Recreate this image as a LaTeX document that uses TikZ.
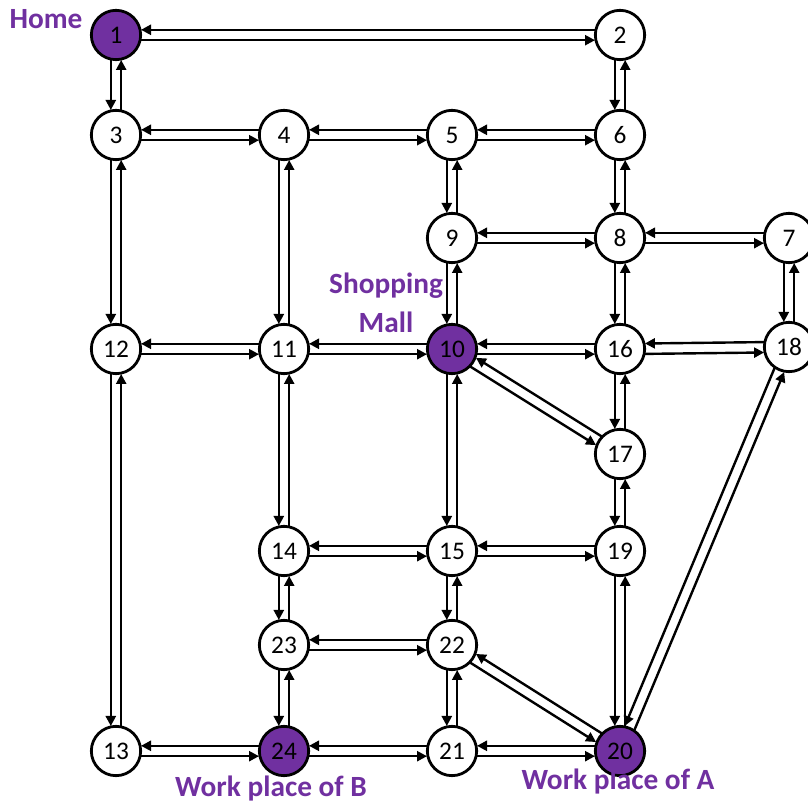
\documentclass[tikz,border=0pt]{standalone}
\usepackage{fontspec}
\setmainfont{Carlito}
\usetikzlibrary{calc,arrows.meta}
\definecolor{offpurple}{HTML}{7030A0}
\tikzset{
  vtx/.style={circle,draw=black,line width=2.1pt,fill=white,minimum size=37pt,inner sep=0pt,font=\fontsize{19}{22}\selectfont},
  hub/.style={vtx,fill=offpurple},
  lbl/.style={text=offpurple,font=\fontsize{22}{29}\selectfont\bfseries,inner sep=0pt,align=center},
  arr/.style={line width=1.8pt,-{Triangle[length=7.5pt,width=7.5pt]}}
}
\newcommand\RR{18.75pt}
\newcommand\DD{3.9pt}
\newcommand\biedge[2]{%
  \draw[arr] ($(#1)!\RR!(#2)!\DD!-90:(#2)$) -- ($(#2)!\RR!(#1)!\DD!90:(#1)$);
  \draw[arr] ($(#2)!\RR!(#1)!\DD!-90:(#1)$) -- ($(#1)!\RR!(#2)!\DD!90:(#2)$);}
\begin{document}
\begin{tikzpicture}[x=0.75pt,y=-0.75pt]
\useasboundingbox (0,0) rectangle (808,805);
% nodes
\node[hub] (n1) at (116,35) {1};
\node[vtx] (n2) at (620,35) {2};
\node[vtx] (n3) at (116,135) {3};
\node[vtx] (n4) at (284,135) {4};
\node[vtx] (n5) at (452,135) {5};
\node[vtx] (n6) at (620,135) {6};
\node[vtx] (n7) at (789,238) {7};
\node[vtx] (n8) at (620,238) {8};
\node[vtx] (n9) at (452,238) {9};
\node[vtx] (n12) at (116,349) {12};
\node[vtx] (n11) at (284,349) {11};
\node[hub] (n10) at (452,349) {10};
\node[vtx] (n16) at (620,349) {16};
\node[vtx] (n18) at (789,347) {18};
\node[vtx] (n17) at (620,454) {17};
\node[vtx] (n14) at (284,551) {14};
\node[vtx] (n15) at (452,551) {15};
\node[vtx] (n19) at (620,551) {19};
\node[vtx] (n23) at (284,645) {23};
\node[vtx] (n22) at (452,645) {22};
\node[vtx] (n13) at (116,751) {13};
\node[hub] (n24) at (284,751) {24};
\node[vtx] (n21) at (452,751) {21};
\node[hub] (n20) at (620,751) {20};
% edges
\biedge{n1}{n2}
\biedge{n1}{n3}
\biedge{n2}{n6}
\biedge{n3}{n4}
\biedge{n4}{n5}
\biedge{n5}{n6}
\biedge{n3}{n12}
\biedge{n4}{n11}
\biedge{n5}{n9}
\biedge{n6}{n8}
\biedge{n9}{n8}
\biedge{n8}{n7}
\biedge{n9}{n10}
\biedge{n8}{n16}
\biedge{n7}{n18}
\biedge{n12}{n11}
\biedge{n11}{n10}
\biedge{n10}{n16}
\biedge{n16}{n18}
\biedge{n10}{n17}
\biedge{n16}{n17}
\biedge{n12}{n13}
\biedge{n11}{n14}
\biedge{n10}{n15}
\biedge{n17}{n19}
\biedge{n18}{n20}
\biedge{n14}{n15}
\biedge{n15}{n19}
\biedge{n19}{n20}
\biedge{n14}{n23}
\biedge{n15}{n22}
\biedge{n23}{n22}
\biedge{n22}{n20}
\biedge{n23}{n24}
\biedge{n22}{n21}
\biedge{n13}{n24}
\biedge{n24}{n21}
\biedge{n21}{n20}
% labels
\node[lbl] (home) at (46,19) {Home};
\node[lbl] (mall) at (386,303) {Shopping\\Mall};
\node[lbl] (wpb) at (271,789) {Work place of B};
\node[lbl] (wpa) at (618,782) {Work place of A};
\end{tikzpicture}
\end{document}
